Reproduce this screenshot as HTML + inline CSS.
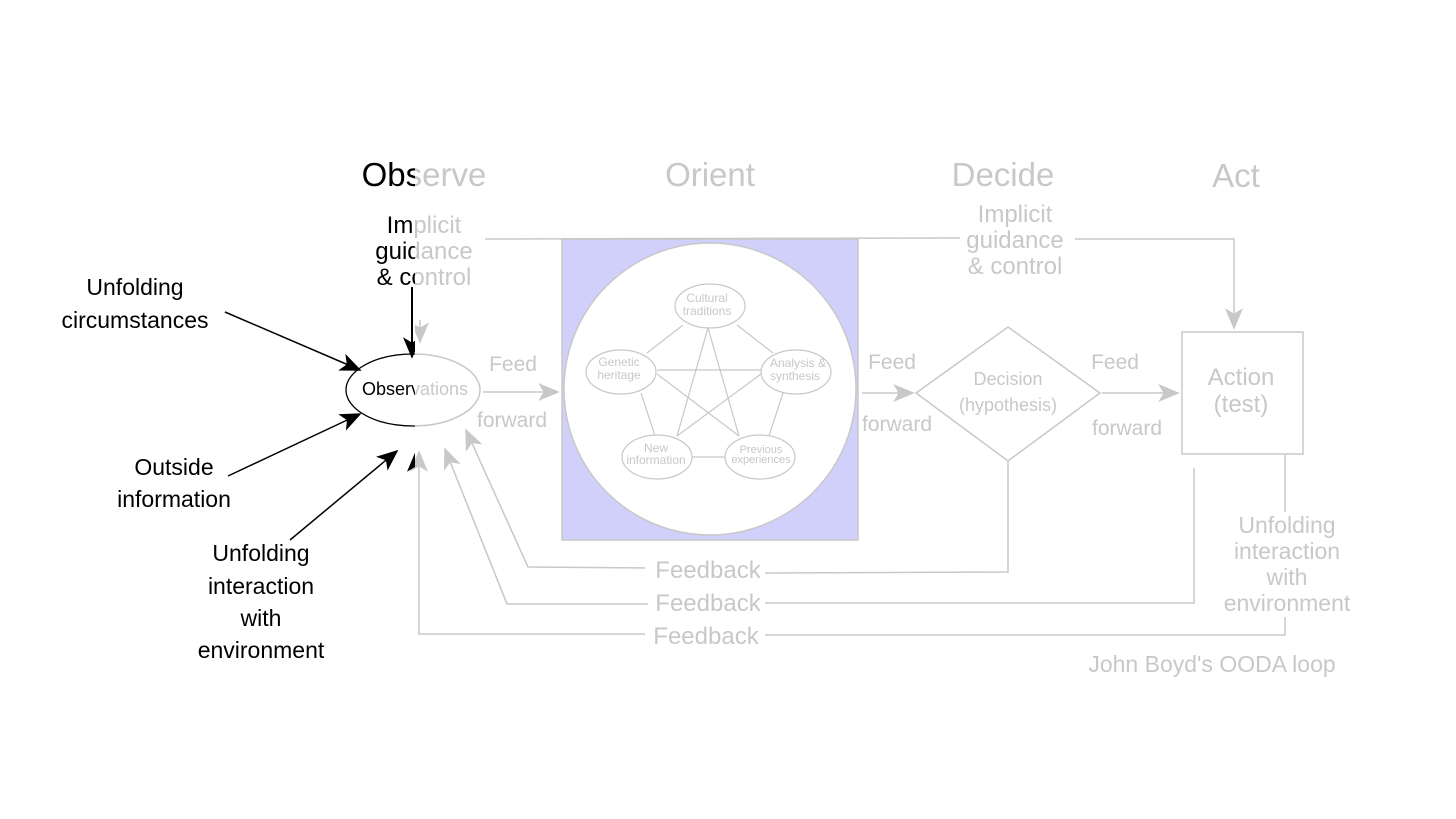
<!DOCTYPE html>
<html><head><meta charset="utf-8"><style>
html,body{margin:0;padding:0;background:#fff;width:1456px;height:819px;overflow:hidden}
svg{display:block}
text{font-family:"Liberation Sans",sans-serif;text-anchor:middle}
</style></head><body>
<svg width="1456" height="819" viewBox="0 0 1456 819" xmlns="http://www.w3.org/2000/svg">
<defs>
<marker id="g" viewBox="0 0 12 10" refX="11" refY="5" markerWidth="22" markerHeight="18" markerUnits="userSpaceOnUse" orient="auto"><path d="M0,0 L12,5 L0,10 L3,5 z" fill="#c8c8c8"/></marker>
<marker id="b" viewBox="0 0 12 10" refX="11" refY="5" markerWidth="24" markerHeight="18" markerUnits="userSpaceOnUse" orient="auto"><path d="M0,0 L12,5 L0,10 L3,5 z" fill="#000"/></marker>
<clipPath id="L"><rect x="0" y="0" width="415" height="819"/></clipPath>
</defs>
<g fill="#c8c8c8" stroke="none">
<text x="424" y="186" font-size="33">Observe</text>
<text x="710" y="186" font-size="33">Orient</text>
<text x="1003" y="186" font-size="33">Decide</text>
<text x="1236" y="187" font-size="33">Act</text>
<text x="424" y="233" font-size="24">Implicit</text>
<text x="424" y="259" font-size="24">guidance</text>
<text x="424" y="285" font-size="24">&amp; control</text>
<text x="1015" y="222" font-size="24">Implicit</text>
<text x="1015" y="248" font-size="24">guidance</text>
<text x="1015" y="274" font-size="24">&amp; control</text>
<text x="513" y="371" font-size="21">Feed</text>
<text x="512" y="427" font-size="21">forward</text>
<text x="892" y="369" font-size="21">Feed</text>
<text x="897" y="431" font-size="21">forward</text>
<text x="1115" y="369" font-size="21">Feed</text>
<text x="1127" y="435" font-size="21">forward</text>
<text x="415" y="395" font-size="18">Observations</text>
<text x="1008" y="385" font-size="18">Decision</text>
<text x="1008" y="411" font-size="18">(hypothesis)</text>
<text x="1241" y="385" font-size="24">Action</text>
<text x="1241" y="412" font-size="24">(test)</text>
<text x="1287" y="533" font-size="23">Unfolding</text>
<text x="1287" y="559" font-size="23">interaction</text>
<text x="1287" y="585" font-size="23">with</text>
<text x="1287" y="611" font-size="23">environment</text>
<text x="708" y="578" font-size="24">Feedback</text>
<text x="708" y="611" font-size="24">Feedback</text>
<text x="706" y="644" font-size="24">Feedback</text>
<text x="1212" y="672" font-size="23">John Boyd's OODA loop</text>
</g>
<g fill="none" stroke="#c8c8c8" stroke-width="1.5">
<rect x="562" y="239" width="296" height="301" fill="#d0d0fa" stroke="#c8c8c8"/>
<circle cx="710" cy="389" r="146" fill="#fff"/>
<ellipse cx="413" cy="390" rx="67" ry="36"/>
<path d="M485,239 L960,238 M1075,239 L1234,239 L1234,328" marker-end="url(#g)"/>
<path d="M420,320 L420,342" marker-end="url(#g)"/>
<path d="M483,392 L558,392" marker-end="url(#g)"/>
<path d="M862,393 L913,393" marker-end="url(#g)"/>
<path d="M1102,393 L1178,393" marker-end="url(#g)"/>
<path d="M1008,327 L1100,393 L1008,461 L916,393 Z"/>
<rect x="1182" y="332" width="121" height="122"/>
<path d="M1008,461 L1008,572 L765,573"/>
<path d="M645,568 L528,567 L466,430" marker-end="url(#g)"/>
<path d="M1194,468 L1194,603 L765,603"/>
<path d="M648,604 L507,604 L445,449" marker-end="url(#g)"/>
<path d="M1285,455 L1285,512 M1285,617 L1285,635 L765,635"/>
<path d="M645,634 L419,634 L419,452" marker-end="url(#g)"/>
<g stroke-width="1.2">
<line x1="647" y1="353" x2="683" y2="325"/><line x1="737" y1="325" x2="773" y2="353"/>
<line x1="641" y1="393" x2="655" y2="436"/><line x1="783" y1="393" x2="769" y2="436"/>
<line x1="692" y1="457" x2="725" y2="457"/>
<line x1="708" y1="328" x2="677" y2="436"/><line x1="708" y1="328" x2="739" y2="436"/>
<line x1="657" y1="370" x2="761" y2="370"/><line x1="657" y1="374" x2="739" y2="436"/>
<line x1="761" y1="374" x2="677" y2="436"/>
<ellipse cx="710" cy="306" rx="35" ry="22" fill="#fff"/>
<ellipse cx="621" cy="372" rx="35" ry="22" fill="#fff"/>
<ellipse cx="796" cy="372" rx="35" ry="22" fill="#fff"/>
<ellipse cx="657" cy="457" rx="35" ry="22" fill="#fff"/>
<ellipse cx="760" cy="457" rx="35" ry="22" fill="#fff"/>
</g>
</g>
<g fill="#c8c8c8">
<text x="707" y="302" font-size="12">Cultural</text><text x="707" y="315" font-size="12">traditions</text>
<text x="619" y="366" font-size="12">Genetic</text><text x="619" y="379" font-size="12">heritage</text>
<text x="798" y="367" font-size="12">Analysis &amp;</text><text x="795" y="380" font-size="12">synthesis</text>
<text x="656" y="452" font-size="12">New</text><text x="656" y="464" font-size="12">information</text>
<text x="761" y="453" font-size="11">Previous</text><text x="761" y="463" font-size="11">experiences</text>
</g>
<!-- black left part -->
<g clip-path="url(#L)">
<rect x="340" y="150" width="80" height="300" fill="#fff"/>
<g fill="#000">
<text x="424" y="186" font-size="33">Observe</text>
<text x="424" y="233" font-size="24">Implicit</text>
<text x="424" y="259" font-size="24">guidance</text>
<text x="424" y="285" font-size="24">&amp; control</text>
<text x="415" y="395" font-size="18">Observations</text>
</g>
<ellipse cx="413" cy="390" rx="67" ry="36" fill="none" stroke="#000" stroke-width="1.3"/>
<path d="M412,287 L412,357" stroke="#000" stroke-width="2" fill="none" marker-end="url(#b)"/>
<path d="M416,470 L416,452" stroke="#000" stroke-width="2" fill="none" marker-end="url(#b)"/>
</g>
<g fill="#000">
<text x="135" y="295" font-size="23">Unfolding</text>
<text x="135" y="328" font-size="23">circumstances</text>
<text x="174" y="475" font-size="23">Outside</text>
<text x="174" y="507" font-size="23">information</text>
<text x="261" y="561" font-size="23">Unfolding</text>
<text x="261" y="594" font-size="23">interaction</text>
<text x="261" y="626" font-size="23">with</text>
<text x="261" y="658" font-size="23">environment</text>
</g>
<g stroke="#000" stroke-width="1.5" fill="none">
<path d="M225,312 L360,370" marker-end="url(#b)"/>
<path d="M228,476 L360,414" marker-end="url(#b)"/>
<path d="M290,540 L397,451" marker-end="url(#b)"/>
</g>
</svg>
</body></html>
